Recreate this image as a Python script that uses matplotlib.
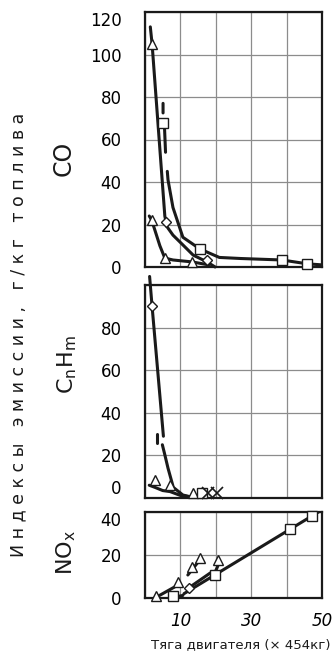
import numpy as np
import matplotlib
matplotlib.use("Agg")
import matplotlib.pyplot as plt

# ── Данные: CO ────────────────────────────────────────────────────────────────
co_steep_x = [1.5, 2.0, 5.6, 6.2, 7.9, 10.7, 13.6, 17.5, 19.8]
co_steep_y = [113, 105, 24, 19, 15, 10.4, 5.6, 2.4, 0]
co_sq_x = [5.1, 5.1, np.nan, 5.5, 5.8, np.nan, 6.3, 6.5, 7.9, 10.7, 15.5, 21.0, 27.0, 38.7, 45.8, 50.0]
co_sq_y = [72.5, 77, np.nan, 66, 54, np.nan, 45, 41, 28, 14, 8.5, 4.5, 4.0, 3.3, 1.5, 1.0]
co_low_x = [1.2, 1.9, 4.2, 5.6, 7.9, 13.3, 18.0]
co_low_y = [24, 22, 10, 4.2, 3.3, 2.4, 1.0]
co_tri_x = [2.0, 1.9, 5.6, 13.3]
co_tri_y = [105, 22, 4.2, 2.4]
co_sqm_x = [5.1, 15.5, 38.7, 45.8]
co_sqm_y = [68, 8.5, 3.3, 1.5]
co_dia_x = [5.9, 17.5]
co_dia_y = [21, 3.3]

# ── Данные: CnHm ──────────────────────────────────────────────────────────────
hc_steep_x = [1.3, 2.0, 5.2]
hc_steep_y = [104, 90, 29]
hc_tick_x = [3.4, 3.4]
hc_tick_y = [30, 26]
hc_sq_x = [4.9, 5.5, 6.5, 8.0, 10.7, 13.0]
hc_sq_y = [25, 21, 14, 5, 1.4, 0.5]
hc_low_x = [1.2, 2.8, 5.0, 7.1, 10.0, 13.0]
hc_low_y = [6, 5, 3.5, 3, 1.2, 0.5]
hc_tri_x = [2.8, 7.1, 13.6]
hc_tri_y = [8.5, 6.1, 2.5]
hc_sqm_x = [16.0]
hc_sqm_y = [2.5]
hc_dia_x = [2.0]
hc_dia_y = [90]
hc_x_x = [17.8, 20.3]
hc_x_y = [2.5, 2.5]

# ── Данные: NOx ───────────────────────────────────────────────────────────────
no_main_x = [11.0, 50.0]
no_main_y = [2.0, 41.0]
no_par_x = [12.7, 18.4]
no_par_y = [5.1, 11.6]
no_left_x = [2.8, 9.3]
no_left_y = [0.0, 6.0]
no_up_x = [12.1, 15.0]
no_up_y = [10.7, 16.7]
no_up2_x = [19.8, 20.6]
no_up2_y = [12.0, 15.0]
no_small_x = [7.9, 10.7]
no_small_y = [0.3, 1.2]
no_tri_x = [3.1, 9.3, 13.3, 15.5, 20.6]
no_tri_y = [0.8, 7.4, 14.4, 18.6, 17.7]
no_sqm_x = [7.9, 19.8, 41.0, 47.2]
no_sqm_y = [0.8, 10.8, 32.0, 38.2]
no_dia_x = [12.4]
no_dia_y = [4.6]

x_ticks = [0, 10, 20, 30, 40, 50]
x_ticklabels = ['', '10', '', '30', '', '50']

# ── Оформление ────────────────────────────────────────────────────────────────
W, H = 332, 663
fig = plt.figure(figsize=(W / 100, H / 100), dpi=100)

def box(top, bottom, left=145, right=322):
    return [left / W, 1 - bottom / H, (right - left) / W, (bottom - top) / H]

ax_co = fig.add_axes(box(12, 267))
ax_hc = fig.add_axes(box(285, 498))
ax_no = fig.add_axes(box(512, 598))

LINE = dict(color='#1a1a1a', lw=2.2, solid_capstyle='round')
MK = dict(ls='none', mfc='white', mec='#1a1a1a', mew=1.0, ms=7, zorder=5, clip_on=False)

def style(ax, ymax, ystep, yticklabels):
    ax.set_xlim(0, 50)
    ax.set_ylim(0, ymax)
    ax.set_xticks(x_ticks)
    ax.set_yticks(np.arange(0, ymax + 1, ystep))
    ax.set_yticklabels(yticklabels, fontsize=12)
    ax.grid(True, color='#8c8c8c', lw=0.9)
    ax.set_axisbelow(True)
    ax.tick_params(length=0, pad=17)
    for s in ax.spines.values():
        s.set_linewidth(1.6)
        s.set_color('#1a1a1a')

style(ax_co, 120, 20, ['0', '20', '40', '60', '80', '100', '120'])
style(ax_hc, 100, 20, ['0', '20', '40', '60', '80', ''])
style(ax_no, 40, 20, ['0', '20', '40'])
ax_co.set_xticklabels([])
ax_hc.set_xticklabels([])
ax_no.set_xticklabels(x_ticklabels, fontsize=12, style='italic')
ax_no.tick_params(axis='x', pad=10)

# нижняя метка CnHm чуть выше, верхняя метка NOx чуть ниже — чтобы не налезали
ax_hc.get_yticklabels()[0].set_va('bottom')
ax_no.get_yticklabels()[-1].set_va('top')
ax_co.get_yticklabels()[-1].set_va('top')

# CO
ax_co.plot(co_steep_x, co_steep_y, **LINE, clip_on=False)
ax_co.plot(co_sq_x, co_sq_y, **LINE)
ax_co.plot(co_low_x, co_low_y, **LINE)
ax_co.plot(co_tri_x, co_tri_y, marker='^', **MK)
ax_co.plot(co_sqm_x, co_sqm_y, marker='s', **MK)
ax_co.plot(co_dia_x, co_dia_y, marker='D', **dict(MK, ms=5.5))

# CnHm
ax_hc.plot(hc_steep_x, hc_steep_y, **LINE, clip_on=False)
ax_hc.plot(hc_tick_x, hc_tick_y, **LINE)
ax_hc.plot(hc_sq_x, hc_sq_y, **LINE)
ax_hc.plot(hc_low_x, hc_low_y, **LINE)
ax_hc.plot(hc_tri_x, hc_tri_y, marker='^', **MK)
ax_hc.plot(hc_sqm_x, hc_sqm_y, marker='s', **MK)
ax_hc.plot(hc_dia_x, hc_dia_y, marker='D', **dict(MK, ms=5.5))
ax_hc.plot(hc_x_x, hc_x_y, marker='x', **dict(MK, ms=8, mew=1.2))

# NOx
for xs, ys in [(no_main_x, no_main_y), (no_par_x, no_par_y), (no_left_x, no_left_y),
               (no_up_x, no_up_y), (no_up2_x, no_up2_y), (no_small_x, no_small_y)]:
    ax_no.plot(xs, ys, **LINE)
ax_no.plot(no_tri_x, no_tri_y, marker='^', **MK)
ax_no.plot(no_sqm_x, no_sqm_y, marker='s', **MK)
ax_no.plot(no_dia_x, no_dia_y, marker='D', **dict(MK, ms=5.5))

# ── Подписи ───────────────────────────────────────────────────────────────────
ylabel = "Индексы эмиссии, г/кг топлива"
fig.text(18 / W, 1 - 335 / H, " ".join(ylabel), rotation=90,
         ha='center', va='center', fontsize=12.5, color='#1a1a1a')
fig.text(64 / W, 1 - 158 / H, "CO", rotation=90, ha='center', va='center',
         fontsize=17, color='#1a1a1a')
fig.text(67 / W, 1 - 365 / H, r"C$_\mathrm{n}$H$_\mathrm{m}$", rotation=90,
         ha='center', va='center', fontsize=16, color='#1a1a1a')
fig.text(66 / W, 1 - 552 / H, r"NO$_\mathrm{x}$", rotation=90, ha='center',
         va='center', fontsize=16, color='#1a1a1a')
fig.text(241 / W, 1 - 645 / H, "Тяга двигателя (× 454кг)", ha='center',
         va='center', fontsize=9.5, color='#1a1a1a')

fig.savefig("out.png", dpi=100, facecolor='white')
